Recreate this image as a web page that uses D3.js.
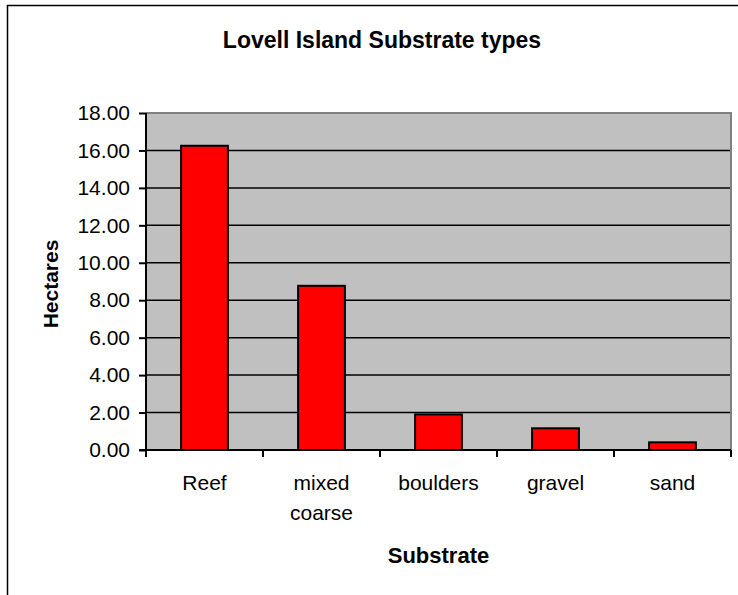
<!DOCTYPE html>
<html><head><meta charset="utf-8">
<script src="https://cdn.jsdelivr.net/npm/d3@7"></script>
<style>html,body{margin:0;padding:0;background:#fff;}svg{display:block;font-family:"Liberation Sans",Arial,sans-serif;}</style>
</head><body>
<svg id="c" width="738" height="595"></svg>
<script>
const categories = ["Reef", "mixed coarse", "boulders", "gravel", "sand"];
const hectares = [16.25, 8.77, 1.9, 1.16, 0.41];
const yTicks = [0, 2, 4, 6, 8, 10, 12, 14, 16, 18];
const title = "Lovell Island Substrate types";
const xTitle = "Substrate";
const yTitle = "Hectares";

const svg = d3.select("#c");
const L = 146, R = 731, T = 113, B = 450;

// outer chart border
svg.append("rect").attr("x", 7.5).attr("y", 5.5).attr("width", 800).attr("height", 700)
  .attr("fill", "none").attr("stroke", "#000").attr("stroke-width", 1.5);

const x = d3.scaleBand().domain(categories).range([L, R]).paddingInner(0.6).paddingOuter(0.3);
const y = d3.scaleLinear().domain([0, 18]).range([B, T]);

// plot background
svg.append("rect").attr("x", L).attr("y", T).attr("width", R - L).attr("height", B - T).attr("fill", "#c0c0c0");

// gridlines
svg.append("g").selectAll("line").data(yTicks.filter(d => d > 0 && d < 18)).join("line")
  .attr("x1", L).attr("x2", R).attr("y1", d => y(d)).attr("y2", d => y(d))
  .attr("stroke", "#000").attr("stroke-width", 1.5);

// gray top/right border
svg.append("path").attr("d", `M${L},${y(18)}H${R}V${B}`).attr("fill", "none")
  .attr("stroke", "#808080").attr("stroke-width", 2);

// bars
svg.append("g").selectAll("rect").data(categories).join("rect")
  .attr("x", d => x(d)).attr("width", x.bandwidth())
  .attr("y", (d, i) => y(hectares[i])).attr("height", (d, i) => B - y(hectares[i]))
  .attr("fill", "#ff0000").attr("stroke", "#000").attr("stroke-width", 2);

// y axis
const yAxis = d3.axisLeft(y).tickValues(yTicks).tickFormat(d3.format(".2f")).tickSize(7).tickPadding(9);
const gy = svg.append("g").attr("transform", `translate(${L},0)`).call(yAxis);
gy.select(".domain").attr("stroke", "#000").attr("stroke-width", 2).attr("d", `M0,${T}V${B}`);
gy.selectAll(".tick line").attr("stroke", "#000").attr("stroke-width", 2);
gy.selectAll(".tick text").attr("font-size", 21).attr("fill", "#000")
  .attr("font-family", "Liberation Sans, Arial, sans-serif");

// x axis (ticks at category boundaries)
const boundaries = d3.range(categories.length + 1).map(i => L + i * x.step());
svg.append("line").attr("x1", L - 7).attr("x2", R).attr("y1", B).attr("y2", B)
  .attr("stroke", "#000").attr("stroke-width", 2);
svg.append("g").selectAll("line").data(boundaries).join("line")
  .attr("x1", d => d).attr("x2", d => d).attr("y1", B).attr("y2", B + 7)
  .attr("stroke", "#000").attr("stroke-width", 2);

// x labels
const xl = svg.append("g").selectAll("text").data(categories).join("text")
  .attr("x", d => x(d) + x.bandwidth() / 2).attr("y", 490)
  .attr("text-anchor", "middle").attr("font-size", 21).attr("fill", "#000");
xl.each(function(d) {
  const words = d.split(" ");
  const t = d3.select(this);
  words.forEach((w, i) => t.append("tspan").attr("x", x(d) + x.bandwidth() / 2).attr("dy", i === 0 ? 0 : 30).text(w));
});

// titles
svg.append("text").attr("x", 382).attr("y", 48).attr("text-anchor", "middle")
  .attr("font-size", 23).attr("font-weight", "bold").text(title);
svg.append("text").attr("x", (L + R) / 2).attr("y", 563).attr("text-anchor", "middle")
  .attr("font-size", 22).attr("font-weight", "bold").text(xTitle);
svg.append("text").attr("transform", "translate(58,284) rotate(-90)").attr("text-anchor", "middle")
  .attr("font-size", 21).attr("font-weight", "bold").text(yTitle);
</script>
</body></html>
